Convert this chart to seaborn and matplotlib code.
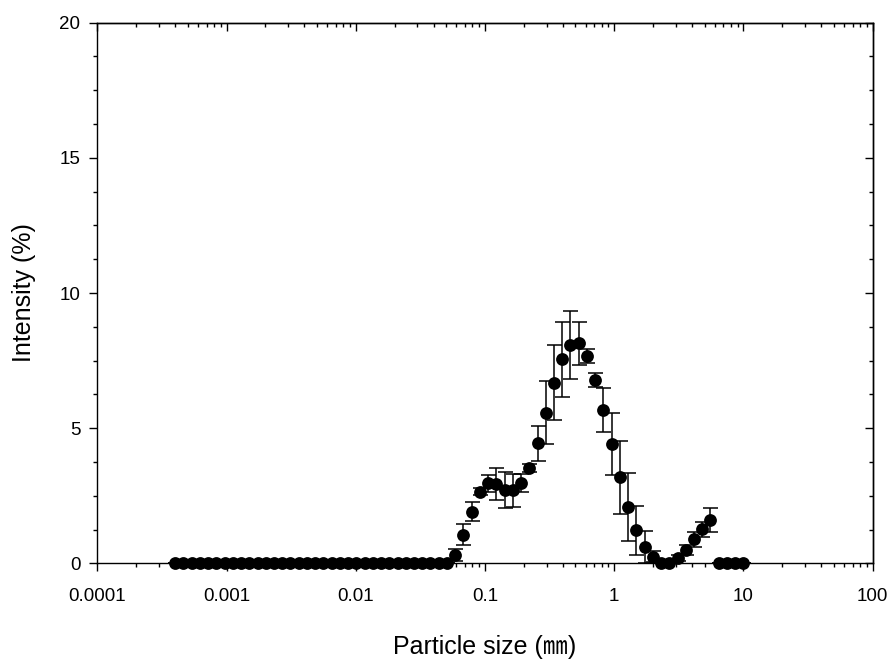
import numpy as np
import pandas as pd
import matplotlib
matplotlib.use("Agg")
import matplotlib.pyplot as plt
import matplotlib.ticker as mticker
import seaborn as sns

# size classes (um), 70 bins
sizes = [0.0004, 0.0004632, 0.0005365, 0.0006213, 0.0007195, 0.0008332, 0.0009649,
         0.001117, 0.001294, 0.001499, 0.001736, 0.002010, 0.002328, 0.002696,
         0.003122, 0.003615, 0.004187, 0.004849, 0.005615, 0.006503, 0.007531,
         0.008721, 0.01010, 0.01170, 0.01354, 0.01569, 0.01817, 0.02104, 0.02436,
         0.02821, 0.03267, 0.03784, 0.04382, 0.05075, 0.05877, 0.06806, 0.07882,
         0.09128, 0.1057, 0.1224, 0.1418, 0.1642, 0.1901, 0.2202, 0.2550, 0.2953,
         0.3420, 0.3961, 0.4587, 0.5312, 0.6151, 0.7124, 0.8250, 0.9554, 1.106,
         1.281, 1.484, 1.718, 1.990, 2.305, 2.669, 3.091, 3.580, 4.145, 4.801,
         5.560, 6.439, 7.456, 8.635, 10.00]

# mean intensity (%)
intensity = [0, 0, 0, 0, 0, 0, 0, 0, 0, 0,
             0, 0, 0, 0, 0, 0, 0, 0, 0, 0,
             0, 0, 0, 0, 0, 0, 0, 0, 0, 0,
             0, 0, 0, 0, 0.33, 1.07, 1.91, 2.66, 2.97, 2.94,
             2.72, 2.70, 2.97, 3.52, 4.44, 5.58, 6.69, 7.55, 8.07, 8.14,
             7.68, 6.78, 5.67, 4.41, 3.18, 2.08, 1.22, 0.61, 0.25, 0.03,
             0.03, 0.21, 0.50, 0.90, 1.27, 1.61, 0, 0, 0, 0]

# standard deviation (%)
intensity_sd = [0, 0, 0, 0, 0, 0, 0, 0, 0, 0,
                0, 0, 0, 0, 0, 0, 0, 0, 0, 0,
                0, 0, 0, 0, 0, 0, 0, 0, 0, 0,
                0, 0, 0, 0, 0.22, 0.40, 0.35, 0.12, 0.32, 0.58,
                0.66, 0.62, 0.33, 0.15, 0.64, 1.16, 1.38, 1.38, 1.25, 0.80,
                0.25, 0.27, 0.82, 1.15, 1.35, 1.25, 0.90, 0.58, 0.20, 0.03,
                0.03, 0.10, 0.18, 0.28, 0.28, 0.44, 0, 0, 0, 0]

x_ticks = [0.0001, 0.001, 0.01, 0.1, 1, 10, 100]
x_ticklabels = ["0.0001", "0.001", "0.01", "0.1", "1", "10", "100"]
y_ticks = [0, 5, 10, 15, 20]

sns.set_style("ticks")
plt.rcParams['font.family'] = ['Liberation Sans', 'Noto Sans CJK JP']
plt.rcParams['axes.linewidth'] = 1.0
plt.rcParams['axes.edgecolor'] = 'black'
plt.rcParams['axes.labelcolor'] = 'black'
plt.rcParams['text.color'] = 'black'
plt.rcParams['xtick.color'] = 'black'
plt.rcParams['ytick.color'] = 'black'

df = pd.DataFrame({"size": sizes, "intensity": intensity, "sd": intensity_sd})

fig = plt.figure(figsize=(8.93, 6.62), dpi=100)
ax = fig.add_axes([0.1090, 0.1488, 0.8682, 0.8172])

# error bars first, markers on top
ax.errorbar(df["size"], df["intensity"], yerr=df["sd"], fmt="none",
            ecolor="black", elinewidth=1.1, capsize=5.4, capthick=1.1, zorder=2)
sns.scatterplot(data=df, x="size", y="intensity", ax=ax, color="black",
                s=85, linewidth=0, zorder=3, clip_on=False)

ax.set_xscale("log")
ax.set_xlim(1e-4, 100)
ax.set_ylim(0, 20)

ax.set_xticks(x_ticks)
ax.set_xticklabels(x_ticklabels)
ax.xaxis.set_minor_locator(mticker.LogLocator(base=10, subs=np.arange(2, 10), numticks=20))
ax.xaxis.set_minor_formatter(mticker.NullFormatter())
ax.set_yticks(y_ticks)
ax.yaxis.set_minor_locator(mticker.MultipleLocator(1.25))

ax.tick_params(which="major", direction="out", length=5.8, width=1.0, labelsize=13.5)
ax.tick_params(which="minor", direction="out", length=3.0, width=1.0)
ax.tick_params(axis="x", which="major", pad=12)
ax.tick_params(axis="y", which="major", pad=6.5)

# inward ticks on top and right
top = ax.secondary_xaxis("top")
top.set_xticks(x_ticks)
top.xaxis.set_minor_locator(mticker.LogLocator(base=10, subs=np.arange(2, 10), numticks=20))
top.xaxis.set_minor_formatter(mticker.NullFormatter())
top.tick_params(which="major", direction="in", length=5.8, width=1.0, labeltop=False)
top.tick_params(which="minor", direction="in", length=3.0, width=1.0)

right = ax.secondary_yaxis("right")
right.set_yticks(y_ticks)
right.yaxis.set_minor_locator(mticker.MultipleLocator(1.25))
right.tick_params(which="major", direction="in", length=5.8, width=1.0, labelright=False)
right.tick_params(which="minor", direction="in", length=3.0, width=1.0)

ax.set_xlabel("Particle size (㎜)", fontsize=18)
ax.set_ylabel("Intensity (%)", fontsize=18)
ax.xaxis.set_label_coords(0.5, -0.132)
ax.yaxis.set_label_coords(-0.079, 0.5)

plt.savefig("out.png", dpi=100)
